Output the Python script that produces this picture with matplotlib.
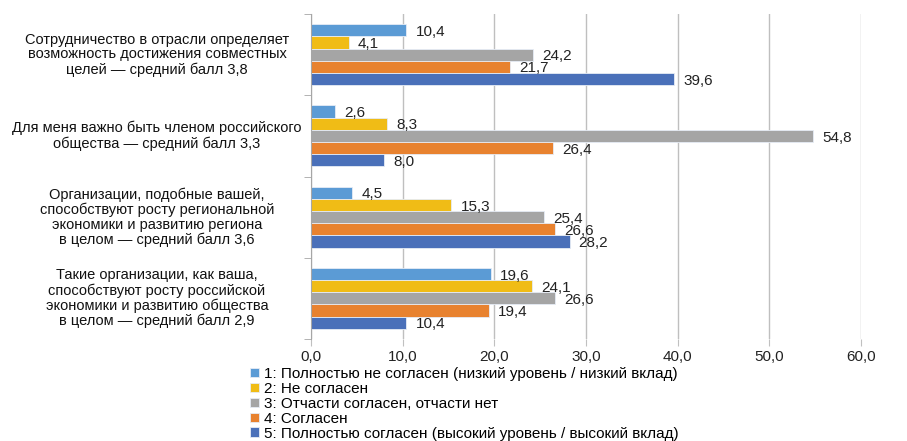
import matplotlib.pyplot as plt
import matplotlib.transforms as mtransforms
import numpy as np

plt.rcParams['font.family'] = ['Liberation Sans', 'DejaVu Sans']

categories = [
    "Сотрудничество в отрасли определяет\nвозможность достижения совместных\nцелей — средний балл 3,8",
    "Для меня важно быть членом российского\nобщества — средний балл 3,3",
    "Организации, подобные вашей,\nспособствуют росту региональной\nэкономики и развитию региона\nв целом — средний балл 3,6",
    "Такие организации, как ваша,\nспособствуют росту российской\nэкономики и развитию общества\nв целом — средний балл 2,9",
]
series_names = [
    "1: Полностью не согласен (низкий уровень / низкий вклад)",
    "2: Не согласен",
    "3: Отчасти согласен, отчасти нет",
    "4: Согласен",
    "5: Полностью согласен (высокий уровень / высокий вклад)",
]
s1 = [10.4, 2.6, 4.5, 19.6]
s2 = [4.1, 8.3, 15.3, 24.1]
s3 = [24.2, 54.8, 25.4, 26.6]
s4 = [21.7, 26.4, 26.6, 19.4]
s5 = [39.6, 8.0, 28.2, 10.4]
series = [s1, s2, s3, s4, s5]
colors = ['#5B9BD5', '#F0BC16', '#A5A5A5', '#E8822F', '#4A70B9']
xticks = [0, 10, 20, 30, 40, 50, 60]

fig = plt.figure(figsize=(9.07, 4.41), dpi=100)
ax = fig.add_axes([311 / 907, 1 - 339 / 441, 550 / 907, 325 / 441])

h = 0.15
y = np.arange(len(categories))
for j, (vals, c, name) in enumerate(zip(series, colors, series_names)):
    pos = y + (j - 2) * h
    ax.barh(pos, vals, height=h, color=c, edgecolor='#E6ECF5', linewidth=0.6, label=name)
    for p, v in zip(pos, vals):
        ax.text(v + 1.0, p + 0.02, f"{v:.1f}".replace('.', ','), va='center', ha='left',
                fontsize=11, color='#222222')

ax.set_ylim(len(categories) - 0.5, -0.5)
ax.set_xlim(0, 60)
ax.set_xticks(xticks)
ax.set_xticklabels([f"{t:.1f}".replace('.', ',') for t in xticks], fontsize=11)
ax.set_yticks([])
ax.set_yticks(np.arange(len(categories) + 1) - 0.5, minor=True)
ax.tick_params(axis='y', which='minor', length=5, color='#A6A6A6', labelleft=False)
ax.tick_params(axis='x', length=5, color='#C0C0C0', pad=3, labelcolor='#222222')
ax.grid(axis='x', color='#BFBFBF', linewidth=1)
ax.set_axisbelow(True)
for s in ['top', 'right', 'bottom']:
    ax.spines[s].set_visible(False)
ax.spines['left'].set_color('#A6A6A6')

trans = mtransforms.blended_transform_factory(fig.transFigure, ax.transData)
for yi, cat in zip(y, categories):
    ax.text(157 / 907, yi, cat, transform=trans, ha='center', va='center',
            multialignment='center', fontsize=10.5, linespacing=1.08, color='#111111')

fig.legend(loc='upper left', bbox_to_anchor=(250 / 907, 1 - 367 / 441), frameon=False,
           fontsize=11, handlelength=0.6, handleheight=0.6, handletextpad=0.3,
           labelspacing=0.06, borderpad=0, borderaxespad=0)

fig.savefig('out.png', dpi=100)
